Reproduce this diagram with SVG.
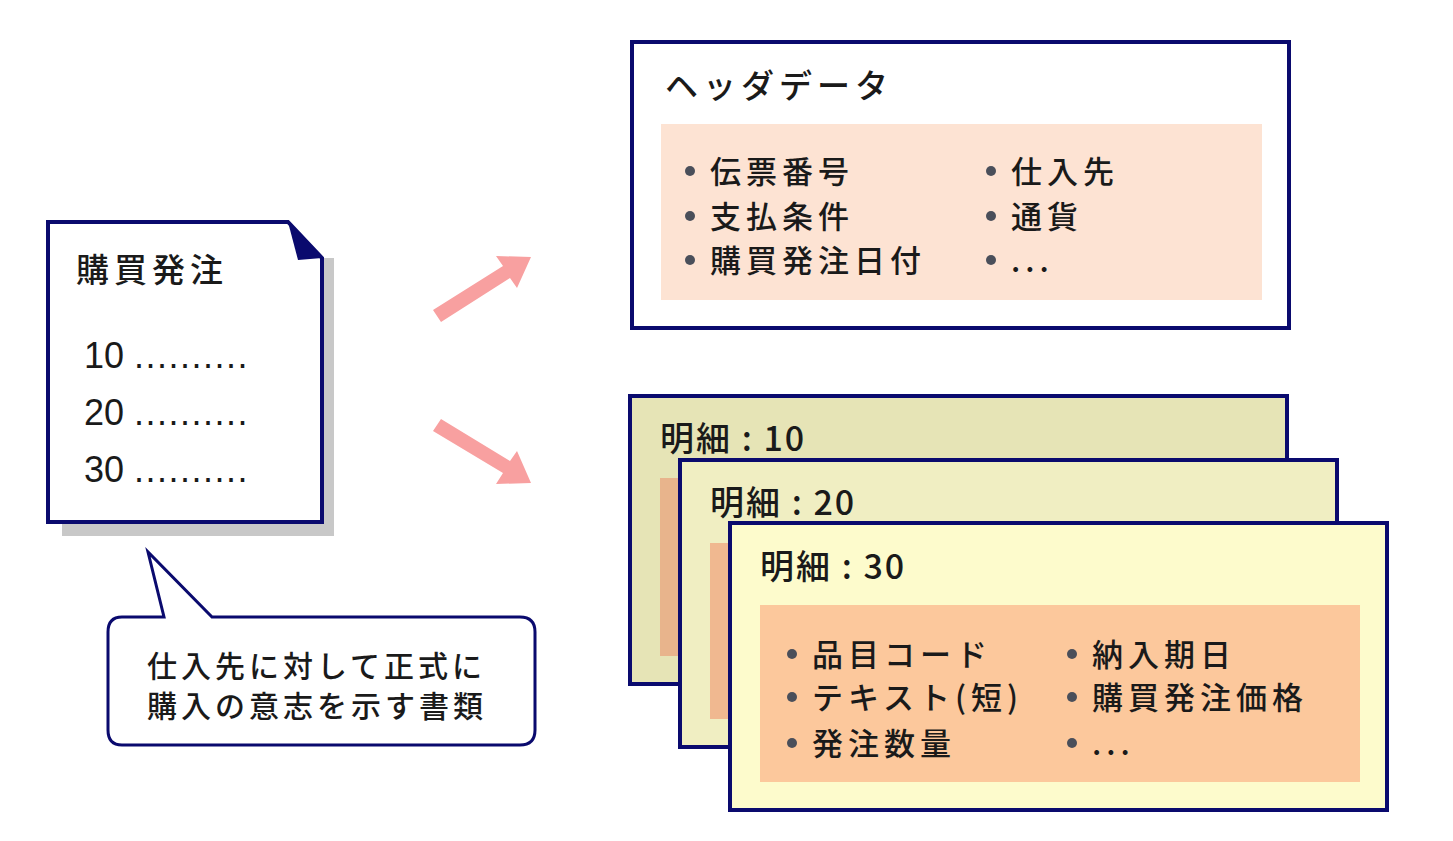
<svg xmlns="http://www.w3.org/2000/svg" width="1453" height="841" viewBox="0 0 1453 841">
<style>
text{font-family:"Noto Sans CJK JP","Liberation Sans",sans-serif;fill:#1a1a1a;font-weight:500}
.t{font-size:33px;letter-spacing:5px}.b{font-size:31px;letter-spacing:5px}.c{font-size:30px;letter-spacing:4px}
.n{font-family:"Liberation Sans","Noto Sans CJK JP",sans-serif;font-size:36px;font-weight:400}
.m{font-size:34px;letter-spacing:2px}
.box{stroke:#0a0a6e;stroke-width:4}
.dot{fill:#4a4f5a}
</style>
<rect width="1453" height="841" fill="#fff"/>
<g id="doc">
<rect x="62" y="258" width="272" height="278" fill="#c8c8c8"/>
<path d="M48 222 H288 L322 258 V522 H48 Z" fill="#fff" class="box"/>
<path d="M288 222 L322 258 L298 260 Z" fill="#0a0a6e"/>
<text x="76" y="282" class="t">購買発注</text>
<text x="84" y="368" class="n">10 <tspan letter-spacing="1.5">..........</tspan></text>
<text x="84" y="425" class="n">20 <tspan letter-spacing="1.5">..........</tspan></text>
<text x="84" y="482" class="n">30 <tspan letter-spacing="1.5">..........</tspan></text>
</g>
<g id="callout">
<path d="M122 617 H164 L148 552 L212 617 H520 Q535 617 535 632 V730 Q535 745 520 745 H122 Q108 745 108 730 V632 Q108 617 122 617 Z" fill="#fff" stroke="#0a0a6e" stroke-width="3"/>
<text x="147" y="677" class="c">仕入先に対して正式に</text>
<text x="147" y="717" class="c">購入の意志を示す書類</text>
</g>
<g id="connectors" fill="#f8a0a0">
<path d="M433 310 L503 266 L496 256 L531 257 L517 288 L510 278 L441 322 Z"/>
<path d="M441 419 L510 461 L517 451 L531 483 L496 484 L503 473 L433 431 Z"/>
</g>
<g id="header">
<rect x="632" y="42" width="657" height="286" fill="#fff" class="box"/>
<rect x="661" y="124" width="601" height="176" fill="#fde3d3"/>
<text x="665" y="98" class="t">ヘッダデータ</text>
<circle cx="690" cy="171" r="5" class="dot"/><text x="710" y="183" class="b">伝票番号</text>
<circle cx="690" cy="216" r="5" class="dot"/><text x="710" y="228" class="b">支払条件</text>
<circle cx="690" cy="260" r="5" class="dot"/><text x="710" y="272" class="b">購買発注日付</text>
<circle cx="991" cy="171" r="5" class="dot"/><text x="1011" y="183" class="b">仕入先</text>
<circle cx="991" cy="216" r="5" class="dot"/><text x="1011" y="228" class="b">通貨</text>
<circle cx="991" cy="260" r="5" class="dot"/><text x="1011" y="272" class="b">...</text>
</g>
<g id="item10">
<rect x="630" y="396" width="657" height="288" fill="#e6e4b6" class="box"/>
<rect x="660" y="478" width="30" height="178" fill="#e8b48c"/>
<text x="660" y="451" class="m">明細 : 10</text>
</g>
<g id="item20">
<rect x="680" y="460" width="657" height="287" fill="#f0eec2" class="box"/>
<rect x="710" y="543" width="30" height="176" fill="#f0b890"/>
<text x="710" y="515" class="m">明細 : 20</text>
</g>
<g id="item30">
<rect x="730" y="523" width="657" height="287" fill="#fdfbcc" class="box"/>
<rect x="760" y="605" width="600" height="177" fill="#fcc89c"/>
<text x="760" y="579" class="m">明細 : 30</text>
<circle cx="792" cy="654" r="5" class="dot"/><text x="812" y="666" class="b">品目コード</text>
<circle cx="792" cy="697" r="5" class="dot"/><text x="812" y="709" class="b">テキスト(短)</text>
<circle cx="792" cy="743" r="5" class="dot"/><text x="812" y="755" class="b">発注数量</text>
<circle cx="1072" cy="654" r="5" class="dot"/><text x="1092" y="666" class="b">納入期日</text>
<circle cx="1072" cy="697" r="5" class="dot"/><text x="1092" y="709" class="b">購買発注価格</text>
<circle cx="1072" cy="743" r="5" class="dot"/><text x="1092" y="755" class="b">...</text>
</g>
</svg>
